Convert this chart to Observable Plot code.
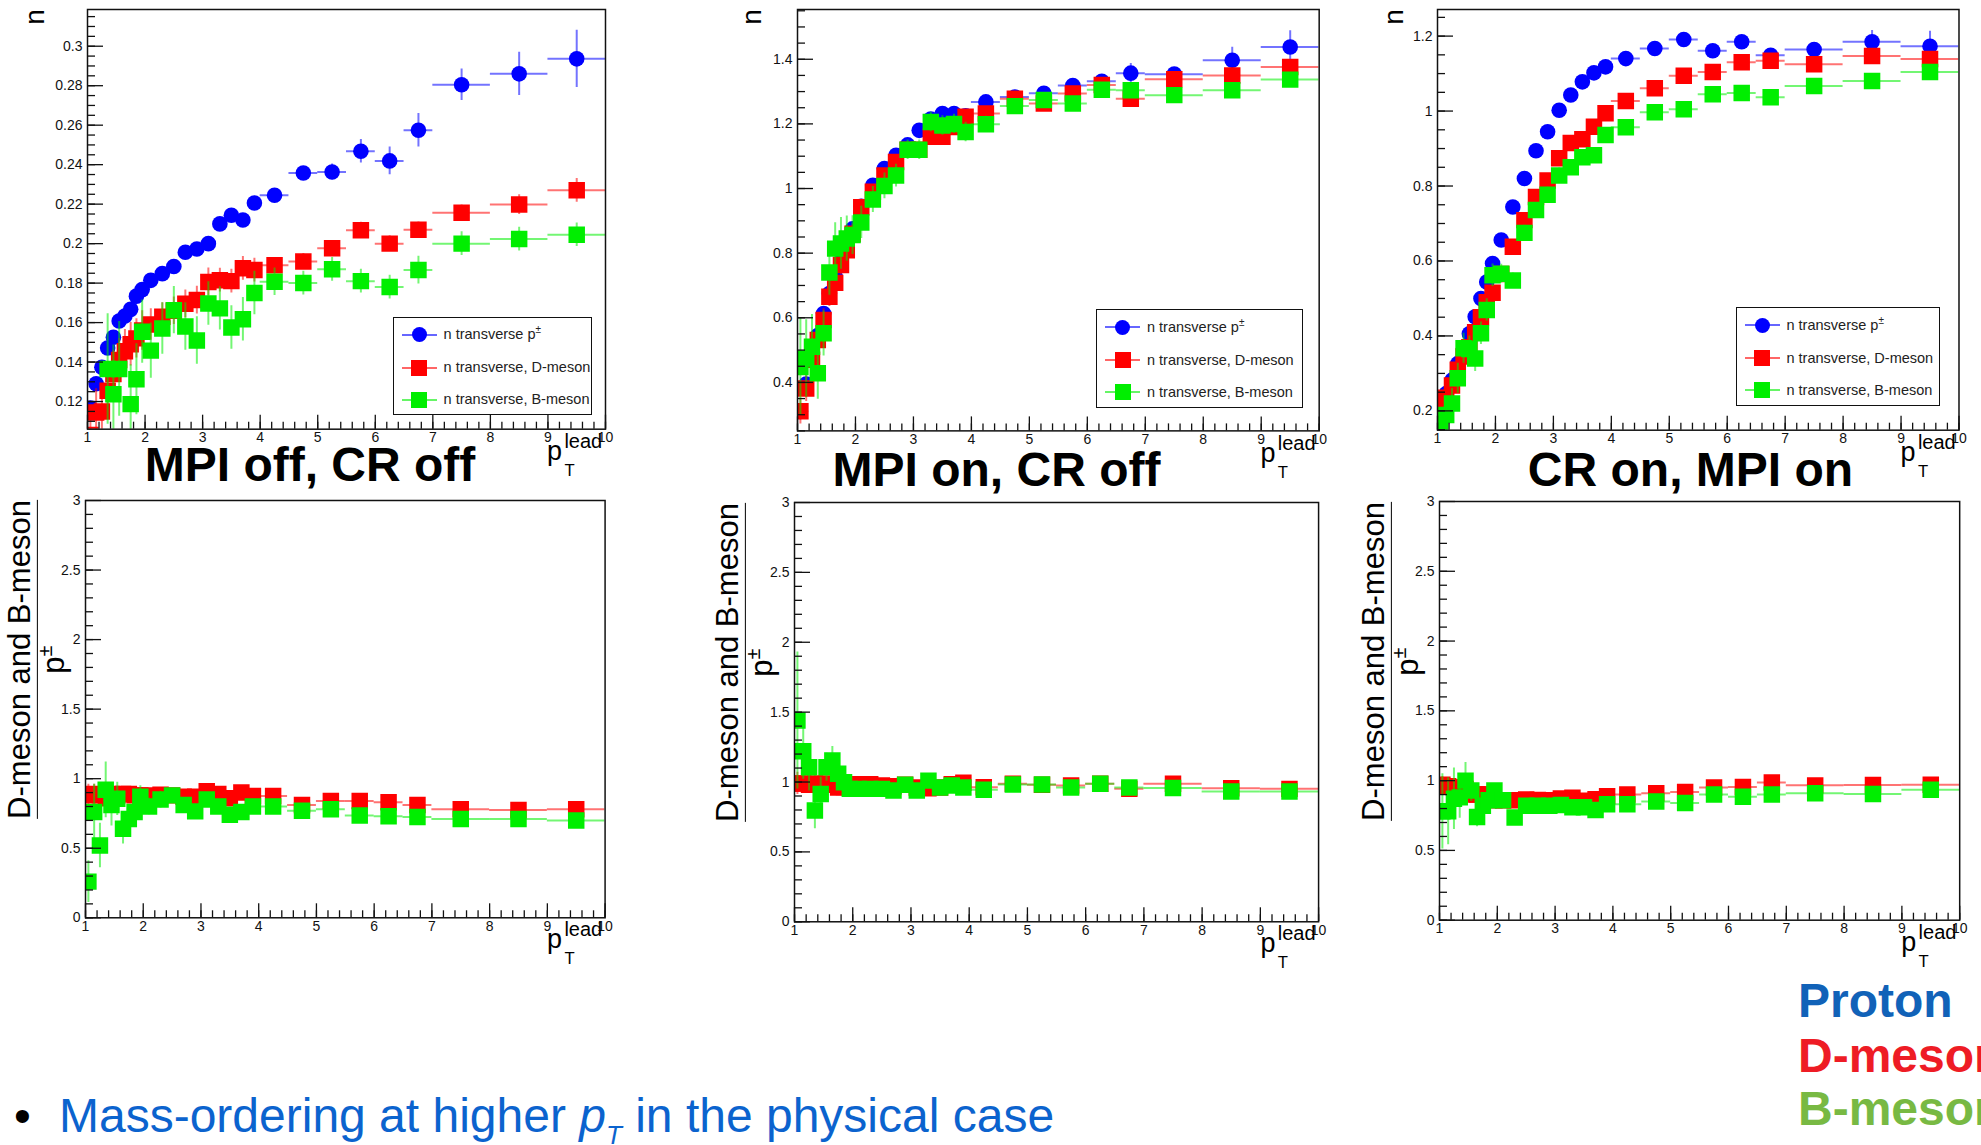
<!DOCTYPE html>
<html><head><meta charset="utf-8">
<script src="https://cdn.jsdelivr.net/npm/d3@7"></script>
<script src="https://cdn.jsdelivr.net/npm/@observablehq/plot@0.6"></script>
<style>
html,body{margin:0;padding:0;background:#fff;overflow:hidden;}
#page{position:relative;width:1981px;height:1145px;overflow:hidden;background:#fff;font-family:"Liberation Sans",Arial,Helvetica,sans-serif;}
.abs{position:absolute;white-space:nowrap;line-height:1;}
.panel{position:absolute;}
.panel svg{overflow:visible;}
.leg{position:absolute;background:#fff;border:1.5px solid #111;box-sizing:border-box;}
</style></head><body><div id="page"></div>
<script>
// ---------- bins (p_T^lead) ----------
const xCenters = [1.05,1.15,1.25,1.35,1.45,1.55,1.65,1.75,1.85,1.95,
                  2.1,2.3,2.5,2.7,2.9,3.1,3.3,3.5,3.7,3.9,
                  4.25,4.75,5.25,5.75,6.25,6.75,7.5,8.5,9.5];
const xHalfWidths = [0.05,0.05,0.05,0.05,0.05,0.05,0.05,0.05,0.05,0.05,
                     0.1,0.1,0.1,0.1,0.1,0.1,0.1,0.1,0.1,0.1,
                     0.25,0.25,0.25,0.25,0.25,0.25,0.5,0.5,0.5];
const xMajorTicks = [1,2,3,4,5,6,7,8,9,10];

// ---------- MPI off, CR off ----------
const offProton    = [0.1167,0.129,0.1374,0.1471,0.1526,0.1608,0.1633,0.1667,0.1734,0.1767,
                      0.1814,0.1848,0.1884,0.1956,0.1973,0.200,0.210,0.2144,0.212,0.2206,
                      0.2245,0.2358,0.2363,0.2468,0.2419,0.2574,0.2805,0.286,0.2936];
const offProtonErr = [0.002,0.002,0.002,0.002,0.002,0.002,0.002,0.002,0.002,0.002,
                      0.002,0.002,0.002,0.002,0.002,0.002,0.003,0.003,0.003,0.003,
                      0.002,0.003,0.004,0.006,0.007,0.0085,0.008,0.011,0.0145];
const offD         = [0.103,0.1145,0.115,0.1255,0.134,0.141,0.1455,0.149,0.152,0.156,
                      0.159,0.163,0.166,0.1695,0.1714,0.1806,0.1815,0.181,0.1875,0.1866,
                      0.189,0.191,0.1976,0.2068,0.200,0.207,0.2156,0.2198,0.227];
const offDErr      = [0.012,0.012,0.012,0.012,0.012,0.011,0.011,0.011,0.01,0.01,
                      0.008,0.007,0.007,0.007,0.007,0.007,0.006,0.006,0.006,0.006,
                      0.004,0.004,0.004,0.004,0.004,0.004,0.004,0.005,0.006];
const offB         = [null,null,null,0.1365,0.1237,0.1365,null,0.1187,0.1313,0.1554,
                      0.1458,0.157,0.1663,0.158,0.1509,0.1697,0.1672,0.1575,0.1617,0.175,
                      0.1807,0.180,0.187,0.181,0.178,0.1866,0.200,0.2023,0.2045];
const offBErr      = [0.03,0.03,0.03,0.028,0.025,0.024,0.022,0.02,0.018,0.016,
                      0.014,0.013,0.012,0.012,0.012,0.011,0.011,0.011,0.011,0.011,
                      0.007,0.006,0.006,0.006,0.006,0.007,0.006,0.006,0.006];
const offRatioD    = [0.88,0.89,0.88,0.86,0.89,0.88,0.89,0.89,0.88,0.88,
                      0.88,0.885,0.88,0.87,0.87,0.91,0.89,0.86,0.90,0.875,
                      0.875,0.81,0.84,0.84,0.83,0.81,0.78,0.775,0.78];
const offRatioDErr = [0.08,0.07,0.07,0.06,0.06,0.06,0.05,0.05,0.05,0.05,
                      0.04,0.04,0.03,0.03,0.03,0.03,0.03,0.03,0.03,0.03,
                      0.02,0.02,0.02,0.02,0.02,0.02,0.02,0.02,0.025];
const offRatioB    = [0.26,0.76,0.52,0.92,0.81,0.855,0.64,0.71,0.76,0.87,
                      0.80,0.85,0.88,0.81,0.765,0.85,0.80,0.74,0.76,0.80,
                      0.80,0.77,0.78,0.735,0.73,0.725,0.71,0.71,0.70];
const offRatioBErr = [0.15,0.2,0.16,0.2,0.15,0.12,0.11,0.1,0.1,0.08,
                      0.06,0.06,0.05,0.05,0.05,0.05,0.05,0.05,0.05,0.04,
                      0.03,0.03,0.03,0.03,0.03,0.03,0.025,0.025,0.03];

// ---------- MPI on, CR off ----------
const mpiProton    = [0.31,0.395,0.475,0.545,0.613,0.675,0.727,0.775,0.83,0.875,
                      0.945,1.01,1.062,1.103,1.135,1.18,1.215,1.232,1.232,1.225,
                      1.268,1.283,1.295,1.319,1.332,1.357,1.354,1.397,1.438];
const mpiProtonErr = [0.01,0.01,0.01,0.01,0.01,0.01,0.01,0.01,0.01,0.01,
                      0.01,0.01,0.01,0.01,0.01,0.01,0.01,0.01,0.01,0.01,
                      0.01,0.01,0.012,0.015,0.02,0.03,0.02,0.04,0.05];
const mpiD         = [0.311,0.381,0.47,0.531,0.593,0.665,0.708,0.763,0.809,0.86,
                      0.942,0.99,1.04,1.082,1.12,1.12,1.16,1.16,1.19,1.222,
                      1.232,1.278,1.263,1.294,1.32,1.278,1.338,1.35,1.376];
const mpiDErr      = [0.04,0.04,0.04,0.035,0.035,0.03,0.03,0.03,0.03,0.03,
                      0.025,0.02,0.02,0.02,0.02,0.02,0.02,0.02,0.02,0.02,
                      0.015,0.015,0.015,0.015,0.015,0.015,0.015,0.015,0.015];
const mpiB         = [0.448,0.474,0.51,0.428,0.552,0.74,0.814,0.83,0.845,0.856,
                      0.895,0.966,1.008,1.04,1.12,1.12,1.206,1.195,1.2,1.175,
                      1.199,1.255,1.274,1.263,1.306,1.304,1.289,1.304,1.337];
const mpiBErr      = [0.15,0.12,0.1,0.08,0.07,0.07,0.08,0.08,0.07,0.06,
                      0.05,0.04,0.04,0.035,0.03,0.03,0.03,0.03,0.03,0.03,
                      0.025,0.02,0.02,0.02,0.02,0.02,0.02,0.02,0.02];
const mpiRatioD    = [0.99,0.99,0.98,0.99,0.98,0.99,0.98,0.96,0.965,0.97,
                      0.985,0.985,0.975,0.97,0.98,0.96,0.955,0.96,0.985,0.995,
                      0.963,0.987,0.98,0.975,0.987,0.951,0.987,0.956,0.951];
const mpiRatioDErr = [0.08,0.07,0.06,0.06,0.05,0.05,0.05,0.04,0.04,0.04,
                      0.03,0.03,0.03,0.03,0.03,0.03,0.03,0.03,0.03,0.03,
                      0.02,0.02,0.02,0.02,0.02,0.02,0.02,0.02,0.02];
const mpiRatioB    = [1.44,1.22,1.106,0.796,0.915,1.106,1.154,1.059,0.999,0.951,
                      0.951,0.951,0.951,0.94,0.98,0.94,1.01,0.96,0.975,0.96,
                      0.944,0.982,0.982,0.96,0.987,0.96,0.958,0.932,0.932];
const mpiRatioBErr = [0.49,0.2,0.17,0.13,0.12,0.1,0.1,0.08,0.07,0.06,
                      0.05,0.04,0.04,0.04,0.04,0.04,0.03,0.03,0.03,0.03,
                      0.03,0.03,0.03,0.03,0.03,0.03,0.03,0.03,0.03];

// ---------- CR on, MPI on ----------
const crProton     = [0.211,0.246,0.282,0.326,0.366,0.406,0.451,0.5,0.544,0.593,
                      0.656,0.744,0.82,0.894,0.945,1.002,1.043,1.078,1.102,1.118,
                      1.14,1.167,1.191,1.161,1.185,1.149,1.164,1.185,1.173];
const crProtonErr  = [0.005,0.005,0.005,0.005,0.005,0.005,0.005,0.005,0.005,0.005,
                      0.005,0.005,0.005,0.005,0.005,0.005,0.005,0.005,0.005,0.005,
                      0.005,0.006,0.008,0.01,0.012,0.015,0.015,0.03,0.04];
const crD          = [0.205,0.235,0.268,0.31,0.345,0.37,0.41,0.45,0.49,0.515,
                      0.565,0.638,0.709,0.771,0.815,0.874,0.915,0.925,0.958,0.994,
                      1.027,1.061,1.094,1.104,1.13,1.134,1.125,1.147,1.139];
const crDErr       = [0.02,0.02,0.02,0.02,0.02,0.018,0.018,0.016,0.016,0.015,
                      0.014,0.012,0.012,0.012,0.012,0.012,0.012,0.012,0.012,0.012,
                      0.01,0.01,0.01,0.01,0.01,0.01,0.01,0.01,0.01];
const crB          = [0.157,0.189,0.22,0.287,0.367,0.365,0.34,0.407,0.469,0.562,
                      0.566,0.548,0.675,0.736,0.777,0.828,0.85,0.877,0.882,0.936,
                      0.957,0.997,1.005,1.045,1.048,1.037,1.067,1.08,1.104];
const crBErr       = [0.04,0.04,0.04,0.04,0.04,0.035,0.035,0.03,0.03,0.03,
                      0.025,0.02,0.02,0.02,0.02,0.02,0.02,0.02,0.02,0.02,
                      0.015,0.015,0.015,0.015,0.015,0.015,0.015,0.015,0.015];
const crRatioD     = [0.97,0.96,0.95,0.95,0.94,0.90,0.90,0.90,0.90,0.86,
                      0.86,0.86,0.865,0.862,0.86,0.872,0.877,0.855,0.867,0.889,
                      0.90,0.909,0.918,0.951,0.954,0.987,0.966,0.968,0.971];
const crRatioDErr  = [0.06,0.06,0.05,0.05,0.05,0.04,0.04,0.04,0.04,0.04,
                      0.03,0.03,0.03,0.03,0.03,0.03,0.03,0.03,0.03,0.03,
                      0.02,0.02,0.02,0.02,0.02,0.02,0.02,0.02,0.02];
const crRatioB     = [0.78,0.78,0.87,0.88,1.0,0.93,0.74,0.82,0.86,0.93,
                      0.86,0.735,0.82,0.82,0.82,0.825,0.81,0.81,0.79,0.83,
                      0.83,0.85,0.84,0.90,0.885,0.90,0.91,0.905,0.935];
const crRatioBErr  = [0.27,0.24,0.22,0.15,0.13,0.08,0.07,0.06,0.05,0.05,
                      0.04,0.04,0.04,0.04,0.04,0.04,0.04,0.04,0.04,0.04,
                      0.03,0.03,0.03,0.03,0.03,0.03,0.03,0.03,0.03];

// ---------- styles ----------
const BLUE = "#0000ff", RED = "#ff0000", GREEN = "#00ee00";
const page = document.getElementById("page");

function fmtTick(d){ return String(+d.toFixed(2)); }

function makePanel(cfg){
  const {L,R,T,B,yDomain,yMajor,yMinorStep,series} = cfg;
  const mL=60,mR=22,mT=12,mB=30;
  const W = R-L+mL+mR, H = B-T+mT+mB;
  const yMinor = d3.range(Math.ceil(yDomain[0]/yMinorStep)*yMinorStep, yDomain[1], yMinorStep);
  const xMinor = d3.range(1, 10.0001, 0.2);
  const marks = [];
  for (const s of series){
    const data = xCenters.map((x,i)=>({x, w:xHalfWidths[i], y:s.values[i], e:s.errors[i]})).filter(d=>d.y!=null);
    marks.push(Plot.ruleY(data,{y:"y",x1:d=>d.x-d.w,x2:d=>d.x+d.w,stroke:s.color,strokeOpacity:0.55,strokeWidth:2,clip:true}));
    marks.push(Plot.ruleX(data,{x:"x",y1:d=>d.y-d.e,y2:d=>d.y+d.e,stroke:s.color,strokeOpacity:0.55,strokeWidth:2,clip:true}));
    marks.push(Plot.dot(data,{x:"x",y:"y",symbol:s.symbol,r:s.r,fill:s.color,clip:true}));
  }
  marks.push(Plot.axisY({ticks:yMinor,tickSize:-8,tickFormat:()=>"",label:null,strokeWidth:1.3}));
  marks.push(Plot.axisY({ticks:yMajor,tickSize:-16,tickFormat:()=>"",label:null,strokeWidth:1.3}));
  marks.push(Plot.axisY({ticks:yMajor,tickSize:0,tickPadding:5,tickFormat:fmtTick,label:null,fontSize:14}));
  marks.push(Plot.axisX({ticks:xMinor,tickSize:-7,tickFormat:()=>"",label:null,strokeWidth:1.3}));
  marks.push(Plot.axisX({ticks:xMajorTicks,tickSize:-14,tickFormat:()=>"",label:null,strokeWidth:1.3}));
  marks.push(Plot.axisX({ticks:xMajorTicks,tickSize:0,tickPadding:3,label:null,fontSize:14}));
  marks.push(Plot.frame({stroke:"#111",strokeWidth:1.5}));
  const svg = Plot.plot({
    width:W, height:H, marginLeft:mL, marginRight:mR, marginTop:mT, marginBottom:mB,
    x:{domain:[1,10],label:null},
    y:{domain:yDomain,label:null},
    style:{background:"transparent",overflow:"visible",color:"#111",fontFamily:"Liberation Sans, Arial, sans-serif"},
    marks
  });
  const div = document.createElement("div");
  div.className="panel";
  div.style.left=(L-mL)+"px"; div.style.top=(T-mT)+"px"; div.style.width=W+"px"; div.style.height=H+"px";
  div.appendChild(svg);
  page.appendChild(div);
}

function addText(html, css){
  const el=document.createElement("div");
  el.className="abs"; el.innerHTML=html;
  Object.assign(el.style, css);
  page.appendChild(el);
  return el;
}

function ptLabel(R,B){
  const px=R-58;
  addText("p",{left:px+"px",top:(B+9)+"px",fontSize:"27px",color:"#000"});
  addText("lead",{left:(px+17.4)+"px",top:(B+2)+"px",fontSize:"20px",color:"#000"});
  addText("T",{left:(px+17.4)+"px",top:(B+34)+"px",fontSize:"16.7px",color:"#000"});
}
function nLabel(cx,cy){
  addText("n",{left:(cx-2.5-7.8)+"px",top:(cy-14)+"px",fontSize:"28px",color:"#000",width:"15.6px",height:"28px",transform:"rotate(-90deg)",transformOrigin:"50% 50%"});
}
function fracLabel(cx,cy){
  const el=document.createElement("div");
  el.className="abs";
  el.style.fontSize="31px"; el.style.textAlign="center"; el.style.color="#000";
  el.innerHTML='<div style="line-height:31px;padding-bottom:2px;border-bottom:1.5px solid #000">D-meson and B-meson</div>'+
               '<div style="line-height:31px">p<sup style="font-size:20px;vertical-align:0;position:relative;top:-12px">±</sup></div>';
  page.appendChild(el);
  const w=el.offsetWidth, h=el.offsetHeight;
  el.style.left=(cx-w/2)+"px"; el.style.top=(cy-h/2)+"px";
  el.style.transform="rotate(-90deg)"; el.style.transformOrigin="50% 50%";
}
function legend(L,T,W,H){
  const box=document.createElement("div");
  box.className="leg";
  Object.assign(box.style,{left:L+"px",top:T+"px",width:W+"px",height:H+"px"});
  const entries=[
    {c:BLUE,shape:"circle",t:'n transverse p<sup style="font-size:10px;vertical-align:0;position:relative;top:-6px">±</sup>'},
    {c:RED,shape:"square",t:"n transverse, D-meson"},
    {c:GREEN,shape:"square",t:"n transverse, B-meson"}];
  const ys=[17,50,82];
  entries.forEach((e,i)=>{
    const y=ys[i];
    const ln=document.createElement("div");
    Object.assign(ln.style,{position:"absolute",left:"8px",top:(y-1)+"px",width:"35px",height:"2px",background:e.c,opacity:"0.6"});
    box.appendChild(ln);
    const mk=document.createElement("div");
    const s=e.shape==="circle"?15:16;
    Object.assign(mk.style,{position:"absolute",left:(25.5-s/2)+"px",top:(y-s/2)+"px",width:s+"px",height:s+"px",background:e.c,borderRadius:e.shape==="circle"?"50%":"0"});
    box.appendChild(mk);
    const tx=document.createElement("div");
    tx.innerHTML=e.t;
    Object.assign(tx.style,{position:"absolute",left:"50px",top:(y-8.5)+"px",fontSize:"14.5px",lineHeight:"17px",color:"#222",whiteSpace:"nowrap"});
    box.appendChild(tx);
  });
  page.appendChild(box);
}

const circle = {symbol:"circle", r:7.8};
const square = {symbol:"square", r:9.3};

// top panels
makePanel({L:87,R:605,T:9.3,B:429,yDomain:[0.106,0.3186],
  yMajor:[0.12,0.14,0.16,0.18,0.2,0.22,0.24,0.26,0.28,0.3],yMinorStep:0.005,
  series:[{values:offProton,errors:offProtonErr,color:BLUE,...circle},
          {values:offD,errors:offDErr,color:RED,...square},
          {values:offB,errors:offBErr,color:GREEN,...square}]});
makePanel({L:796.7,R:1318.4,T:9.3,B:430.7,yDomain:[0.25,1.554],
  yMajor:[0.4,0.6,0.8,1,1.2,1.4],yMinorStep:0.05,
  series:[{values:mpiProton,errors:mpiProtonErr,color:BLUE,...circle},
          {values:mpiD,errors:mpiDErr,color:RED,...square},
          {values:mpiB,errors:mpiBErr,color:GREEN,...square}]});
makePanel({L:1437,R:1958.5,T:9.3,B:430,yDomain:[0.1485,1.271],
  yMajor:[0.2,0.4,0.6,0.8,1,1.2],yMinorStep:0.05,
  series:[{values:crProton,errors:crProtonErr,color:BLUE,...circle},
          {values:crD,errors:crDErr,color:RED,...square},
          {values:crB,errors:crBErr,color:GREEN,...square}]});
// bottom panels
const ratioMajor=[0,0.5,1,1.5,2,2.5,3];
makePanel({L:85.4,R:605,T:500,B:917.3,yDomain:[0,3],yMajor:ratioMajor,yMinorStep:0.1,
  series:[{values:offRatioD,errors:offRatioDErr,color:RED,...square},
          {values:offRatioB,errors:offRatioBErr,color:GREEN,...square}]});
makePanel({L:794.3,R:1318.4,T:502,B:921.3,yDomain:[0,3],yMajor:ratioMajor,yMinorStep:0.1,
  series:[{values:mpiRatioD,errors:mpiRatioDErr,color:RED,...square},
          {values:mpiRatioB,errors:mpiRatioBErr,color:GREEN,...square}]});
makePanel({L:1439,R:1959.2,T:501.3,B:920,yDomain:[0,3],yMajor:ratioMajor,yMinorStep:0.1,
  series:[{values:crRatioD,errors:crRatioDErr,color:RED,...square},
          {values:crRatioB,errors:crRatioBErr,color:GREEN,...square}]});

// legends
legend(392.6,316.7,199.4,98.3);
legend(1096,309,207,99);
legend(1735.5,307,204.5,99);

// axis labels
ptLabel(605,429); ptLabel(1318.4,430.7); ptLabel(1958.5,430);
ptLabel(605,917.3); ptLabel(1318.4,921.3); ptLabel(1959.2,920);
nLabel(37.6,16.5); nLabel(754,17); nLabel(1396,17);
fracLabel(38.75,659); fracLabel(746.75,662.5); fracLabel(1392.4,661);

// titles
const titleCss={fontSize:"48px",fontWeight:"bold",color:"#000",transform:"translateX(-50%)"};
addText("MPI off, CR off",{...titleCss,left:"310px",top:(481.7-40.6)+"px"});
addText("MPI on, CR off",{...titleCss,left:"996.5px",top:(486.7-40.6)+"px"});
addText("CR on, MPI on",{...titleCss,left:"1690.5px",top:(486.7-40.6)+"px"});

// bottom text
addText("•",{left:"14px",top:"1092.4px",fontSize:"48px",color:"#000"});
addText('Mass-ordering at higher <i>p</i><sub style="font-size:26px;font-style:italic;vertical-align:0;position:relative;top:12px">T</sub> in the physical case',
        {left:"59px",top:"1092.4px",fontSize:"48px",color:"#0b63ce"});
addText("Proton",{left:"1798px",top:"977.4px",fontSize:"48px",fontWeight:"bold",color:"#1162b8"});
addText("D-meson",{left:"1798px",top:"1032.4px",fontSize:"48px",fontWeight:"bold",color:"#ee1c25"});
addText("B-meson",{left:"1798px",top:"1085.4px",fontSize:"48px",fontWeight:"bold",color:"#78b943"});
</script>
</body></html>
